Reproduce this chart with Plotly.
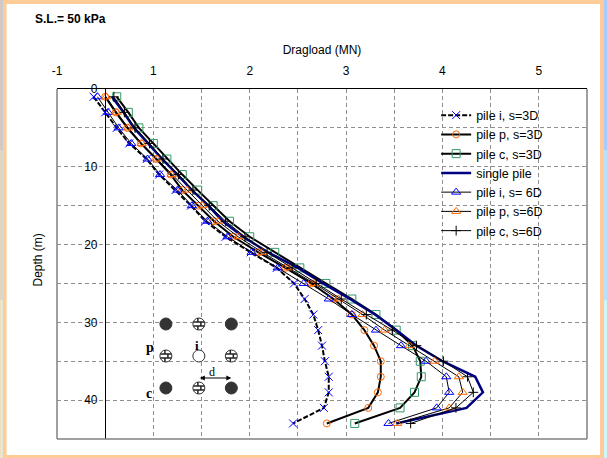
import plotly.graph_objects as go

# depth of the readings (m)
depth = [1, 3, 5, 7, 9, 11, 13, 15, 17, 19, 21, 23, 25, 27, 29, 31, 33, 35, 37, 39, 41, 43]

# dragload (MN), read against the printed top axis
pile_i_3d = [0.38, 0.50, 0.62, 0.75, 0.93, 1.06, 1.23, 1.39, 1.54, 1.75, 2.01, 2.28, 2.46, 2.57, 2.66, 2.71, 2.75, 2.78, 2.82, 2.82, 2.77, 2.45]
pile_p_3d = [0.50, 0.61, 0.73, 0.87, 1.03, 1.18, 1.30, 1.47, 1.63, 1.83, 2.09, 2.37, 2.64, 2.87, 3.06, 3.19, 3.29, 3.36, 3.36, 3.33, 3.23, 2.80]
pile_c_3d = [0.62, 0.74, 0.85, 1.00, 1.14, 1.30, 1.46, 1.62, 1.79, 2.00, 2.26, 2.52, 2.79, 3.06, 3.31, 3.52, 3.69, 3.77, 3.78, 3.71, 3.56, 3.09]
single_pile = [0.57, 0.69, 0.80, 0.94, 1.09, 1.25, 1.40, 1.57, 1.72, 1.93, 2.19, 2.50, 2.76, 3.04, 3.30, 3.52, 3.73, 4.00, 4.34, 4.42, 4.25, 3.52]
pile_i_6d = [0.42, 0.53, 0.64, 0.77, 0.94, 1.07, 1.25, 1.40, 1.56, 1.77, 2.02, 2.29, 2.56, 2.82, 3.06, 3.31, 3.57, 3.83, 4.04, 4.07, 3.94, 3.44]
pile_p_6d = [0.51, 0.62, 0.74, 0.88, 1.04, 1.19, 1.35, 1.51, 1.67, 1.88, 2.13, 2.40, 2.67, 2.92, 3.17, 3.40, 3.66, 3.92, 4.17, 4.21, 4.07, 3.53]
pile_c_6d = [0.59, 0.70, 0.81, 0.96, 1.10, 1.26, 1.41, 1.58, 1.75, 1.95, 2.18, 2.44, 2.69, 2.95, 3.21, 3.48, 3.73, 4.01, 4.26, 4.32, 4.14, 3.67]

x_ticks = [0, 0.5, 1, 1.5, 2, 2.5, 3, 3.5, 4, 4.5, 5]
x_labels = ["-1", "", "1", "", "2", "", "3", "", "4", "", "5"]
y_ticks = [0, 5, 10, 15, 20, 25, 30, 35, 40]
y_labels = ["0", "", "10", "", "20", "", "30", "", "40"]

W, H = 607, 458
LEFT, RIGHT, TOP, BOTTOM = 56.5, 587, 89, 439
FONT = "Liberation Sans"
SERIF = "Liberation Serif"


def px(x):
    return (x - LEFT) / (RIGHT - LEFT)


def py(y):
    return 1 - (y - TOP) / (BOTTOM - TOP)


def rect(x0, y0, x1, y1, fill, layer="above", line=None):
    return dict(type="rect", xref="paper", yref="paper", x0=px(x0), x1=px(x1), y0=py(y0), y1=py(y1),
                fillcolor=fill, layer=layer, line=line or dict(width=0))


def seg(x0, y0, x1, y1, color="#222222", width=1.5):
    return dict(type="line", xref="paper", yref="paper", x0=px(x0), x1=px(x1), y0=py(y0), y1=py(y1),
                line=dict(color=color, width=width))


def circle(cx, cy, fill, r=6):
    return dict(type="circle", xref="paper", yref="paper", x0=px(cx - r), x1=px(cx + r), y0=py(cy - r), y1=py(cy + r),
                fillcolor=fill, line=dict(color="#333333", width=1))


def brick(cx, cy):
    # little hatched pile section
    return [
        circle(cx, cy, "white"),
        seg(cx - 5.5, cy - 2, cx + 5.5, cy - 2),
        seg(cx - 5.5, cy + 2, cx + 5.5, cy + 2),
        seg(cx - 1, cy - 6, cx - 1, cy - 2),
        seg(cx + 2, cy - 2, cx + 2, cy + 2),
        seg(cx - 1, cy + 2, cx - 1, cy + 6),
    ]


def label(text, x, y, size=12, family=FONT, angle=0):
    return dict(text=text, x=px(x), y=py(y), xref="paper", yref="paper", xanchor="center", yanchor="middle",
                textangle=angle, showarrow=False, font=dict(family=family, size=size, color="black"))


fig = go.Figure()


def add_series(name, values, symbol, color, size=8, line_color="black", width=2, dash="solid"):
    fig.add_trace(go.Scatter(
        name=name, x=values, y=depth, mode="lines+markers",
        line=dict(color=line_color, width=width, dash=dash),
        marker=dict(symbol=symbol, size=size, color=color, line=dict(color=color, width=1)),
    ))


add_series("pile i, s=3D", pile_i_3d, "x-thin", "#0000ff", dash="5px,2px")
add_series("pile p, s=3D", pile_p_3d, "circle-open", "#ff6600", size=7)
add_series("pile c, s=3D", pile_c_3d, "square-open", "#339966")
fig.add_trace(go.Scatter(name="single pile", x=single_pile, y=depth, mode="lines",
                         line=dict(color="#000080", width=2.5)))
add_series("pile i, s= 6D", pile_i_6d, "triangle-up-open", "#0000ff", width=1)
add_series("pile p, s=6D", pile_p_6d, "triangle-up-open", "#ff6600", width=1)
add_series("pile c, s=6D", pile_c_6d, "cross-thin", "black", size=7, width=1)

shapes = [
    # window frame
    rect(6, 4, 600, 455, "white", layer="below"),
    rect(0, 0, 2, 150, "#a6ccff", layer="below"),
    rect(0, 150, 2, 300, "#b8e2fc", layer="below"),
    rect(0, 300, 2, 458, "#ccf6f8", layer="below"),
    rect(604, 0, 607, 150, "#a6ccff", layer="below"),
    rect(604, 150, 607, 300, "#b8e2fc", layer="below"),
    rect(604, 300, 607, 458, "#ccf6f8", layer="below"),
    # legend sits on a white patch that hides the grid
    rect(425, 103, 573, 240, "white", layer="between"),
    # plot border
    seg(LEFT, TOP, LEFT, BOTTOM, "#808080", 1.5),
    seg(RIGHT, TOP, RIGHT, BOTTOM, "#808080", 1.5),
    seg(LEFT, BOTTOM, RIGHT, BOTTOM, "#808080", 1.5),
]

# pile group sketch
for cx, cy in [(165.5, 324), (231, 324), (165.5, 388), (231, 388)]:
    shapes.append(circle(cx, cy, "#333333"))
for cx, cy in [(198.5, 324), (165.5, 356), (231, 356), (198.5, 388)]:
    shapes.extend(brick(cx, cy))
shapes.append(circle(198.5, 356, "white"))

annotations = [
    label("<b>S.L.= 50 kPa</b>", 70, 19),
    label("Depth (m)", 37, 260, angle=-90),
    label("<b>p</b>", 149.5, 347, size=14, family=SERIF),
    label("<b>c</b>", 149, 393, size=14, family=SERIF),
    label("<b>i</b>", 197, 345, size=13, family=SERIF),
    label("d", 212, 372, size=12, family=SERIF),
    dict(x=px(231), y=py(378), ax=-33, ay=0, xref="paper", yref="paper",
         text="", showarrow=True, arrowside="end+start", arrowhead=2, arrowsize=1, arrowwidth=1, arrowcolor="black"),
]

fig.update_layout(
    width=W, height=H,
    margin=dict(l=LEFT, r=W - RIGHT, t=TOP, b=H - BOTTOM, pad=0),
    paper_bgcolor="#ffcc99",
    plot_bgcolor="white",
    font=dict(family=FONT, size=12, color="black"),
    shapes=shapes,
    annotations=annotations,
    legend=dict(x=px(436), y=py(100.5), xanchor="left", yanchor="top", bgcolor="rgba(0,0,0,0)",
                tracegroupgap=0, font=dict(family=FONT, size=12.5)),
    xaxis=dict(
        side="top", range=[0, 5.5], tickmode="array", tickvals=x_ticks, ticktext=x_labels,
        showgrid=True, gridcolor="#909090", griddash="4px,3px", gridwidth=1,
        showline=True, linecolor="black", linewidth=1, zeroline=False, ticks="",
        ticklabelstandoff=8,
        title=dict(text="Dragload (MN)", font=dict(family=FONT, size=12), standoff=7),
    ),
    yaxis=dict(
        range=[45, 0], anchor="free", position=px(104.5), tickmode="array", tickvals=y_ticks, ticktext=y_labels,
        showgrid=True, gridcolor="#909090", griddash="4px,3px", gridwidth=1,
        showline=True, linecolor="black", linewidth=1, zeroline=False, ticks="",
        ticklabelstandoff=5,
    ),
)

fig.write_html("out.html", config=dict(displayModeBar=False), post_script="document.body.style.margin = '0';")
